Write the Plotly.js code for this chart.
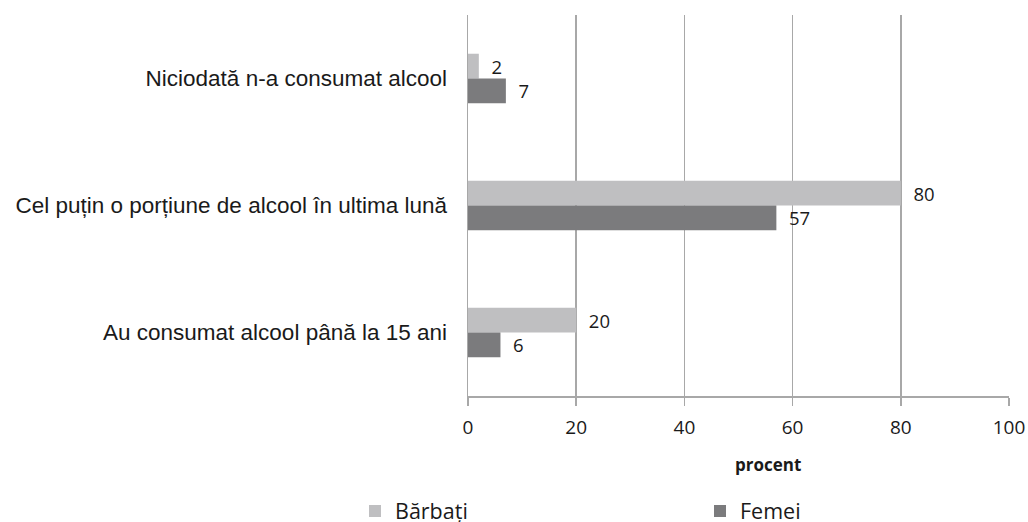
<!DOCTYPE html>
<html>
<head>
<meta charset="utf-8">
<script src="https://cdn.plot.ly/plotly-3.0.1.min.js"></script>
<style>html,body{margin:0;padding:0;background:#fff;}#chart{width:1028px;height:522px;}</style>
</head>
<body>
<div id="chart"></div>
<script>
const categories = [
  "Niciodată n-a consumat alcool",
  "Cel puțin o porțiune de alcool în ultima lună",
  "Au consumat alcool până la 15 ani"
];
const barbati = [2, 80, 20];
const femei = [7, 57, 6];
const seriesNames = ["Bărbați", "Femei"];
const xTicks = [0, 20, 40, 60, 80, 100];
const xTitle = "procent";

const labelFont = {family: "Open Sans", size: 18.5, color: "#1a1a1a"};

const traces = [
  {type: "bar", orientation: "h", name: seriesNames[0], y: categories, x: barbati,
   marker: {color: "#bfbfc1"}, text: barbati, texttemplate: "\u00a0\u00a0%{x}",
   textposition: "outside", constraintext: "none", cliponaxis: false, textfont: labelFont,
   legend: "legend"},
  {type: "bar", orientation: "h", name: seriesNames[1], y: categories, x: femei,
   marker: {color: "#7b7b7d"}, text: femei, texttemplate: "\u00a0\u00a0%{x}",
   textposition: "outside", constraintext: "none", cliponaxis: false, textfont: labelFont,
   legend: "legend2"}
];

const legendBase = {
  xref: "container", yref: "container", y: 0.021, xanchor: "left", yanchor: "middle",
  font: {family: "Open Sans", size: 21.5, color: "#1a1a1a"},
  bgcolor: "rgba(0,0,0,0)", borderwidth: 0
};

const layout = {
  width: 1028, height: 522,
  margin: {l: 468, r: 19, t: 15, b: 126, pad: 0, autoexpand: false},
  paper_bgcolor: "#ffffff", plot_bgcolor: "#ffffff",
  barmode: "group", bargap: 0.61, bargroupgap: 0,
  showlegend: true,
  xaxis: {
    range: [0, 100], tickvals: xTicks, ticktext: xTicks.map(String),
    showgrid: true, gridcolor: "#a8a8a8", gridwidth: 1.5,
    showline: true, linecolor: "#a8a8a8", linewidth: 1.5,
    ticks: "outside", ticklen: 8, tickcolor: "#a8a8a8", tickwidth: 1.5,
    ticklabelstandoff: 6, automargin: false,
    zeroline: false,
    tickfont: {family: "Open Sans", size: 19, color: "#1a1a1a"}
  },
  yaxis: {
    type: "category", autorange: "reversed", automargin: false,
    showline: true, linecolor: "#a8a8a8", linewidth: 1.5,
    showgrid: false, zeroline: false, ticks: "", ticklen: 0,
    ticklabelstandoff: 15,
    tickfont: {family: "Liberation Sans", size: 22.5, color: "#1a1a1a"}
  },
  annotations: [{
    text: "<b>" + xTitle + "</b>", xref: "paper", yref: "paper",
    x: (768 - 468) / 541, y: -0.18, xanchor: "center", yanchor: "middle",
    showarrow: false, font: {family: "Open Sans", size: 17, color: "#1a1a1a"}
  }],
  legend: Object.assign({}, legendBase, {x: 355 / 1028}),
  legend2: Object.assign({}, legendBase, {x: 700 / 1028})
};

Plotly.newPlot("chart", traces, layout, {displayModeBar: false, staticPlot: true});
</script>
</body>
</html>
